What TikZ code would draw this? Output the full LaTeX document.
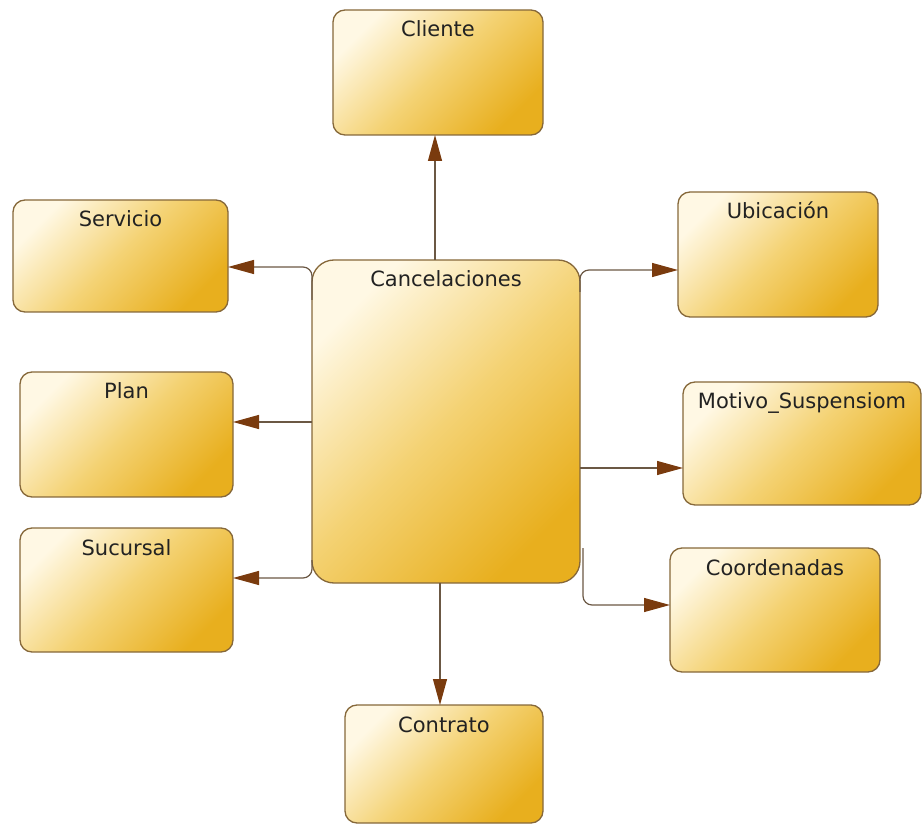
\documentclass[tikz,border=0pt]{standalone}
\usepackage{fontspec}
\setmainfont{DejaVu Sans}
\usetikzlibrary{arrows.meta}
\definecolor{boxlight}{HTML}{FFF8E4}
\definecolor{boxmid}{HTML}{F4D273}
\definecolor{boxdark}{HTML}{E8AF1E}
\definecolor{boxborder}{HTML}{86683A}
\definecolor{linecol}{HTML}{6B5844}
\definecolor{tipcol}{HTML}{7A3B0E}
\definecolor{txt}{HTML}{222222}
\tikzset{
  entity/.style={draw=boxborder, line width=1.3pt, rounded corners=12pt,
    top color=boxlight, bottom color=boxdark, middle color=boxmid, shading angle=45,
    anchor=north west, inner sep=0pt, outer sep=0pt},
  lab/.style={font=\fontsize{21}{24}\selectfont, text=txt, inner sep=0pt, anchor=base, yshift=-27pt},
  conn/.style={draw=linecol, line width=1.2pt, rounded corners=9pt,
    -{Triangle[length=26pt,width=14pt,fill=tipcol,color=tipcol]}}
}
\begin{document}
\begin{tikzpicture}[x=1pt,y=-1pt]
\useasboundingbox (0,0) rectangle (922,826);
% boxes
\node[entity, minimum width=210pt, minimum height=125pt, label={[lab]north:Cliente}] (cli) at (333,10) {};
\node[entity, minimum width=215pt, minimum height=112pt, label={[lab]north:Servicio}] (ser) at (13,200) {};
\node[entity, minimum width=213pt, minimum height=125pt, label={[lab]north:Plan}] (pla) at (20,372) {};
\node[entity, minimum width=213pt, minimum height=124pt, label={[lab]north:Sucursal}] (suc) at (20,528) {};
\node[entity, minimum width=268pt, minimum height=323pt, rounded corners=22pt, label={[lab]north:Cancelaciones}] (can) at (312,260) {};
\node[entity, minimum width=200pt, minimum height=125pt, label={[lab]north:Ubicación}] (ubi) at (678,192) {};
\node[entity, minimum width=238pt, minimum height=123pt, label={[lab]north:Motivo\_Suspensiom}] (mot) at (683,382) {};
\node[entity, minimum width=210pt, minimum height=124pt, label={[lab]north:Coordenadas}] (coo) at (670,548) {};
\node[entity, minimum width=198pt, minimum height=118pt, label={[lab]north:Contrato}] (con) at (345,705) {};
% connectors
\draw[conn] (can.north -| 435,0) -- (cli.south -| 435,0);
\draw[conn] (can.south -| 440,0) -- (con.north -| 440,0);
\draw[conn] (can.west |- 0,300) -- (can.west |- 0,267) -- (ser.east |- 0,267);
\draw[conn] (can.west |- 0,422) -- (pla.east |- 0,422);
\draw[conn] (can.west |- 0,560) -- (can.west |- 0,578) -- (suc.east |- 0,578);
\draw[conn] (can.east |- 0,292) -- (can.east |- 0,270) -- (ubi.west |- 0,270);
\draw[conn] (can.east |- 0,468) -- (mot.west |- 0,468);
\draw[conn] (583,548) -- (583,605) -- (coo.west |- 0,605);
\end{tikzpicture}
\end{document}
